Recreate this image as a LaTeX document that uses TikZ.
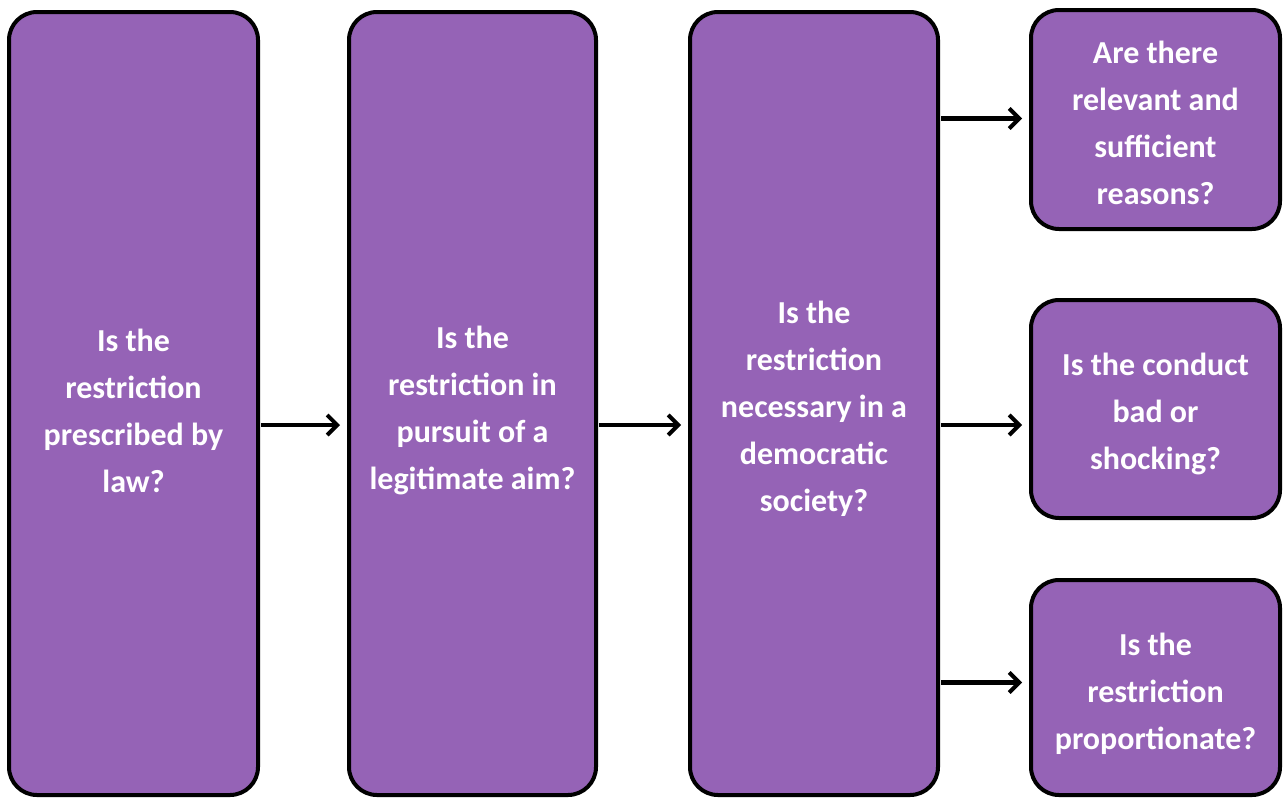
\documentclass[tikz,border=0pt]{standalone}
\usepackage{fontspec}
\setmainfont{Carlito}
\usetikzlibrary{arrows.meta,calc}
\definecolor{boxpurple}{RGB}{149,99,182}
\tikzset{
  qbox/.style={draw=black, line width=4pt, fill=boxpurple, rounded corners=28pt, inner sep=0pt},
  qtext/.style={text=white, align=center, inner sep=0pt,
    font=\bfseries\fontsize{32}{47}\selectfont},
  link/.style={line width=4.5pt, -{Straight Barb[length=10pt,width=20pt,line width=4pt]}, shorten >=7pt, shorten <=1pt}
}
\begin{document}
\begin{tikzpicture}[x=1pt,y=-1pt]
\useasboundingbox (0,0) rectangle (1285,798);
\node[qbox, minimum width=249pt, minimum height=783pt] (b1) at (133.5,403.5) {};
\node[qbox, minimum width=247pt, minimum height=783pt] (b2) at (472.5,403.5) {};
\node[qbox, minimum width=248pt, minimum height=783pt] (b3) at (814,403.5) {};
\node[qbox, minimum width=249pt, minimum height=219pt] (b4) at (1155.5,119.5) {};
\node[qbox, minimum width=249pt, minimum height=218pt] (b5) at (1155.5,409) {};
\node[qbox, minimum width=249pt, minimum height=215pt] (b6) at (1155.5,687.5) {};
\node[qtext] (t1) at ($(b1.center)+(0,7)$) {Is the\\restriction\\prescribed by\\law?};
\node[qtext] (t2) at ($(b2.center)+(0,7)$) {Is the\\restriction in\\pursuit of a\\legitimate aim?};
\node[qtext] (t3) at ($(b3.center)+(0,5)$) {Is the\\restriction\\necessary in a\\democratic\\society?};
\node[qtext] (t4) at ($(b4.center)+(0,3)$) {Are there\\relevant and\\sufficient\\reasons?};
\node[qtext] (t5) at ($(b5.center)+(0,5)$) {Is the conduct\\bad or\\shocking?};
\node[qtext] (t6) at ($(b6.center)+(0,6)$) {Is the\\restriction\\proportionate?};
\coordinate (lvl) at (0,425);
\draw[link] (b1.east |- lvl) -- (b2.west |- lvl);
\draw[link] (b2.east |- lvl) -- (b3.west |- lvl);
\draw[link] ($(b3.east |- b4.west)+(0,-1)$) -- ($(b4.west)+(0,-1)$);
\draw[link] (b3.east |- lvl) -- (b5.west |- lvl);
\draw[link] ($(b3.east |- b6.west)+(0,-5)$) -- ($(b6.west)+(0,-5)$);
\end{tikzpicture}
\end{document}
